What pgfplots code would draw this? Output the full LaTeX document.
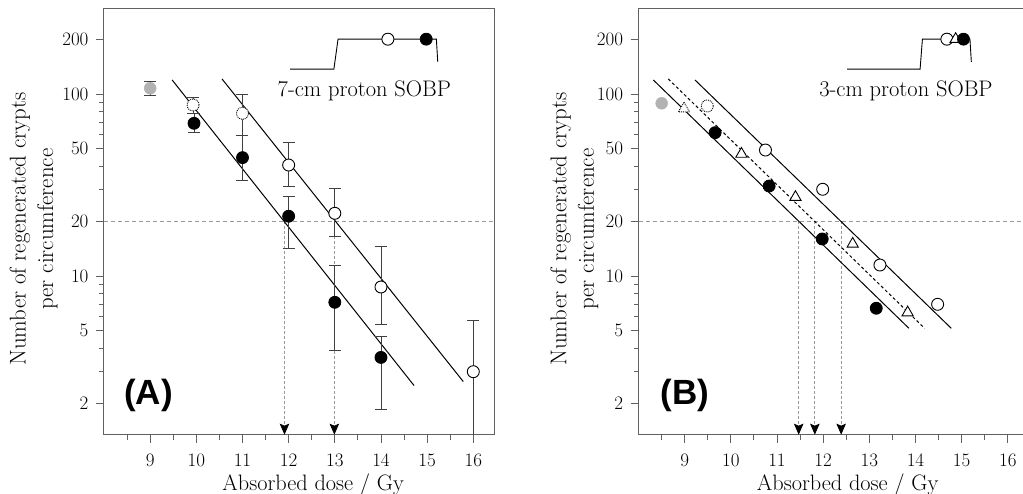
\documentclass[border=0pt]{standalone}
\usepackage{fontspec}
\usepackage{pgfplots}
\pgfplotsset{compat=1.18}
\usetikzlibrary{arrows.meta}
\newfontfamily\panelfont{Liberation Sans}

\definecolor{framegray}{gray}{0.38}
\definecolor{dashgray}{gray}{0.6}
\definecolor{dotgray}{gray}{0.7}

\pgfplotsset{
  markfilled/.style={black, only marks, mark=*, mark size=6pt, mark options={fill=black, draw=black, line width=0.8pt}},
  markopen/.style={black, only marks, mark=*, mark size=6pt, mark options={fill=white, draw=black, line width=0.9pt}},
  markdotted/.style={black, only marks, mark=*, mark size=6pt, mark options={fill=white, draw=black, line width=0.9pt, densely dotted}},
  marktri/.style={black, only marks, mark=triangle*, mark size=6.5pt, mark options={fill=white, draw=black, line width=0.9pt}},
  marktridot/.style={black, only marks, mark=triangle*, mark size=6.5pt, mark options={fill=white, draw=black, line width=0.9pt, densely dotted}},
  markgray/.style={black, only marks, mark=*, mark size=6pt, mark options={fill=dotgray, draw=dotgray}},
  witherr/.style={
    error bars/y dir=both, error bars/y explicit,
    error bars/error bar style={black!75, line width=0.8pt},
    error bars/error mark options={rotate=90, black!75, line width=0.8pt, mark size=6pt}},
  fitline/.style={black, line width=1pt, no marks},
  hdash/.style={dashgray, line width=0.8pt, dash pattern=on 4pt off 3pt, no marks},
  varrow/.style={dashgray, line width=0.8pt, dash pattern=on 3pt off 2pt, no marks,
    -{Stealth[black, length=11pt, width=9.5pt, inset=2pt]}},
}

\begin{document}
\begin{tikzpicture}
% ---------------- (A) 7-cm SOBP
\begin{axis}[at={(104pt,58.3pt)}, anchor=south west,
    scale only axis, width=391pt, height=425.7pt,
    xmin=8, xmax=16.47, ymode=log, ymin=1.343, ymax=293,
    xtick={9,...,16}, xticklabels={9,10,11,12,13,14,15,16},
    minor xtick={8.5,9.5,...,15.5},
    ytick={2,5,10,20,50,100,200}, yticklabels={2,5,10,20,50,100,200},
    minor ytick={3,4,6,7,8,9,30,40,60,70,80,90},
    tick pos=left, tick align=outside,
    major tick length=8pt, minor tick length=5pt,
    axis line style={framegray, line width=1pt},
    tick style={framegray, line width=0.9pt},
    tick label style={font=\fontsize{19}{21}\selectfont},
    xticklabel shift=8pt, yticklabel shift=4pt,
    xlabel={Absorbed dose / Gy},
    xlabel style={font=\fontsize{22.3}{25}\selectfont, at={(axis description cs:0.535,0)}, anchor=base, yshift=-55.3pt},
    ylabel={Number of regenerated crypts\\per circumference},
    ylabel style={font=\fontsize{22.8}{27.5}\selectfont, align=center, anchor=center, at={(axis description cs:-0.1800,0.483)}},
  ]
\addplot [hdash] coordinates {(8,20) (16.47,20)};
\addplot [varrow] coordinates {(11.91,20) (11.91,1.343)};
\addplot [varrow] coordinates {(12.99,20) (12.99,1.343)};
\addplot [fitline] coordinates {(9.476,119.4) (14.717,2.50)};
\addplot [fitline] coordinates {(10.557,120.9) (15.783,2.63)};
% gray reference point
\addplot [markgray, witherr] coordinates {(9,107.5) += (0,10.4) -= (0,8.8)};
% dotted open circles
\addplot [markdotted, witherr] coordinates {
  (9.93,87) += (0,8.9) -= (0,8.7)
  (11,78.3) += (0,21.7) -= (0,19.3)
};
% filled circles
\addplot [markfilled, witherr] coordinates {
  (9.95,69) += (0,9) -= (0,7.7)
  (11,44.7) += (0,14.3) -= (0,11.3)
  (12,21.3) += (0,6) -= (0,7.1)
  (13,7.17) += (0,4.28) -= (0,3.25)
  (14,3.57) += (0,1.08) -= (0,1.72)
};
% open circles
\addplot [markopen, witherr] coordinates {
  (12,40.7) += (0,13.3) -= (0,9.7)
  (13,22.1) += (0,8) -= (0,5.5)
  (14,8.7) += (0,5.8) -= (0,3.28)
  (16,2.98) += (0,2.75) -= (0,1.7)
};
% SOBP inset
\addplot [black, line width=0.9pt, no marks] coordinates {(12.03,137) (12.98,137) (13.07,200) (15.2,200) (15.23,150)};
\addplot [markopen] coordinates {(14.15,200)};
\addplot [markfilled] coordinates {(14.98,200)};
\node [anchor=base, font=\fontsize{22.5}{25}\selectfont] at (axis cs:13.64,96.3) {7-cm proton SOBP};
\node [anchor=center, font=\panelfont\bfseries\fontsize{35}{40}\selectfont] at (axis cs:8.963,2.22) {(A)};
\end{axis}
% ---------------- (B) 3-cm SOBP
\begin{axis}[at={(638.5pt,58.3pt)}, anchor=south west,
    scale only axis, width=391pt, height=425.7pt,
    xmin=8, xmax=16.47, ymode=log, ymin=1.343, ymax=293,
    xtick={9,...,16}, xticklabels={9,10,11,12,13,14,15,16},
    minor xtick={8.5,9.5,...,15.5},
    ytick={2,5,10,20,50,100,200}, yticklabels={2,5,10,20,50,100,200},
    minor ytick={3,4,6,7,8,9,30,40,60,70,80,90},
    tick pos=left, tick align=outside,
    major tick length=8pt, minor tick length=5pt,
    axis line style={framegray, line width=1pt},
    tick style={framegray, line width=0.9pt},
    tick label style={font=\fontsize{19}{21}\selectfont},
    xticklabel shift=8pt, yticklabel shift=4pt,
    xlabel={Absorbed dose / Gy},
    xlabel style={font=\fontsize{22.3}{25}\selectfont, at={(axis description cs:0.535,0)}, anchor=base, yshift=-55.3pt},
    ylabel={Number of regenerated crypts\\per circumference},
    ylabel style={font=\fontsize{22.8}{27.5}\selectfont, align=center, anchor=center, at={(axis description cs:-0.164,0.483)}},
  ]
\addplot [hdash] coordinates {(8,20) (16.47,20)};
\addplot [varrow] coordinates {(11.47,20) (11.47,1.343)};
\addplot [varrow] coordinates {(11.82,20) (11.82,1.343)};
\addplot [varrow] coordinates {(12.39,20) (12.39,1.343)};
\addplot [fitline] coordinates {(8.321,119.4) (13.858,5.16)};
\addplot [black, line width=1pt, no marks, dash pattern=on 3pt off 2.5pt] coordinates {(8.645,120.9) (14.197,5.16)};
\addplot [fitline] coordinates {(9.223,119.4) (14.775,5.16)};
\addplot [markgray] coordinates {(8.502,88.9)};
\addplot [marktridot] coordinates {(8.985,83)};
\addplot [markdotted] coordinates {(9.49,85.9)};
\addplot [markfilled] coordinates {(9.66,61.3) (10.83,31.2) (11.98,15.97) (13.15,6.65)};
\addplot [marktri] coordinates {(10.23,46.8) (11.40,27.1) (12.64,15.0) (13.83,6.29)};
\addplot [markopen] coordinates {(10.75,49.2) (11.99,29.95) (13.23,11.49) (14.48,6.99)};
% SOBP inset
\addplot [black, line width=0.9pt, no marks] coordinates {(12.52,137) (14.10,137) (14.15,200) (15.18,200) (15.21,150)};
\addplot [markopen] coordinates {(14.68,200)};
\addplot [marktri] coordinates {(14.87,200)};
\addplot [markfilled] coordinates {(15.04,200)};
\node [anchor=base, font=\fontsize{22.5}{25}\selectfont] at (axis cs:13.793,96.3) {3-cm proton SOBP};
\node [anchor=center, font=\panelfont\bfseries\fontsize{35}{40}\selectfont] at (axis cs:9.013,2.22) {(B)};
\end{axis}
\pgfresetboundingbox
\path [use as bounding box] (0,0) rectangle (1023pt,493pt);
\end{tikzpicture}
\end{document}
